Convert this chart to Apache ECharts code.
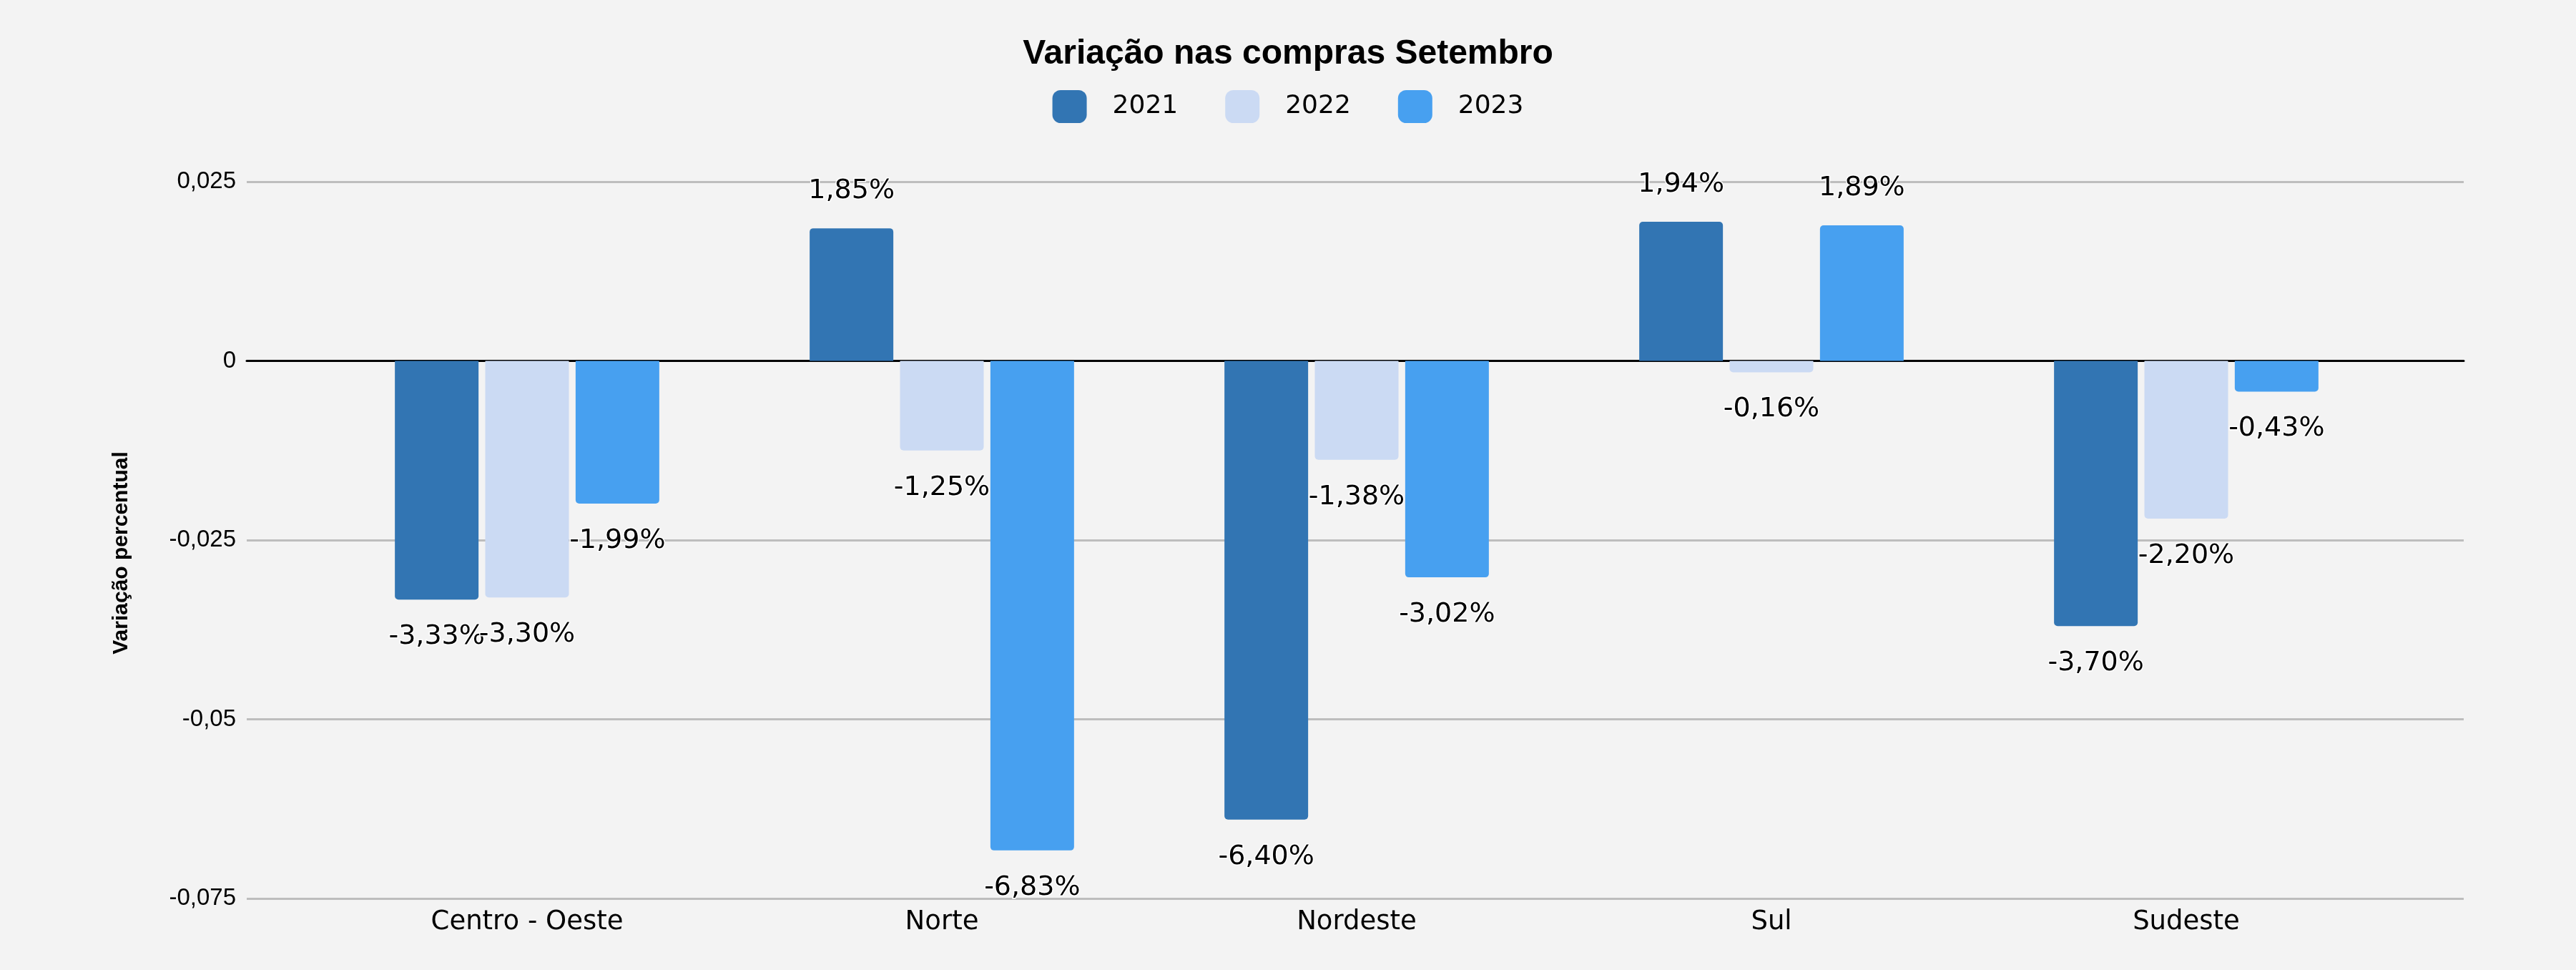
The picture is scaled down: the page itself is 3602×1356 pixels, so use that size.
<!DOCTYPE html>
<html>
<head>
<meta charset="utf-8">
<script src="https://cdn.jsdelivr.net/npm/echarts@6/dist/echarts.min.js"></script>
<style>
html,body{margin:0;padding:0;background:#f3f3f3;}
#chart{width:3602px;height:1356px;}
</style>
</head>
<body>
<div id="chart"></div>
<script>
const categories = ['Centro - Oeste', 'Norte', 'Nordeste', 'Sul', 'Sudeste'];
const seriesNames = ['2021', '2022', '2023'];
const values2021 = [-0.0333, 0.0185, -0.0640, 0.0194, -0.0370];
const values2022 = [-0.0330, -0.0125, -0.0138, -0.0016, -0.0220];
const values2023 = [-0.0199, -0.0683, -0.0302, 0.0189, -0.0043];
const yTicks = [-0.075, -0.05, -0.025, 0, 0.025];
const yTickLabels = ['-0,075', '-0,05', '-0,025', '0', '0,025'];
const colors = ['#3275b3', '#cbdaf3', '#47a0f0'];

function fmtPct(v) {
  return (v * 100).toFixed(2).replace('.', ',') + '%';
}
function tickLabel(v) {
  let best = 0, d = Infinity;
  yTicks.forEach((t, i) => { const dd = Math.abs(t - v); if (dd < d) { d = dd; best = i; } });
  return yTickLabels[best];
}
function buildData(arr) {
  return arr.map(v => ({
    value: v,
    label: { position: v >= 0 ? 'top' : 'bottom' },
    itemStyle: { borderRadius: v >= 0 ? [5, 5, 0, 0] : [0, 0, 5, 5] }
  }));
}
const allValues = [values2021, values2022, values2023];

const chart = echarts.init(document.getElementById('chart'));
chart.setOption({
  backgroundColor: '#f3f3f3',
  animation: false,
  title: {
    text: 'Variação nas compras Setembro',
    left: 'center',
    top: 47,
    textStyle: { fontFamily: 'Liberation Sans', fontSize: 48, fontWeight: 'bold', color: '#000' }
  },
  legend: {
    data: seriesNames,
    top: 121,
    left: 'center',
    icon: 'roundRect',
    itemWidth: 48,
    itemHeight: 46,
    itemGap: 66,
    textStyle: { fontFamily: 'DejaVu Sans', fontSize: 36, color: '#000', padding: [0, 0, 0, 31] }
  },
  grid: [
    { left: 345, right: 157, top: 254, bottom: 100 },
    { left: 447, right: 255, top: 254, bottom: 100 }
  ],
  xAxis: [
    {
      gridIndex: 0, type: 'category', data: categories,
      axisLine: { show: true, onZero: true, lineStyle: { color: '#000', width: 3 } },
      axisTick: { show: false }, axisLabel: { show: false }, splitLine: { show: false }
    },
    {
      gridIndex: 1, type: 'category', data: categories,
      axisLine: { show: false }, axisTick: { show: false },
      axisLabel: { fontFamily: 'DejaVu Sans', fontSize: 37, color: '#000', margin: 15 }
    }
  ],
  yAxis: [
    {
      gridIndex: 0, type: 'value', min: -0.075, max: 0.025, interval: 0.025,
      name: 'Variação percentual', nameLocation: 'middle', nameGap: 160, nameRotate: 90,
      nameTextStyle: { fontFamily: 'Liberation Sans', fontSize: 30, fontWeight: 'bold', color: '#000', padding: [0, 36, 0, 0] },
      axisLine: { show: false }, axisTick: { show: false },
      axisLabel: { fontFamily: 'Liberation Sans', fontSize: 33, color: '#000', margin: 15, formatter: tickLabel },
      splitLine: { show: true, lineStyle: { color: '#bdbdbd', width: 3 } }
    },
    {
      gridIndex: 1, type: 'value', min: -0.075, max: 0.025, interval: 0.025, show: false,
      splitLine: { show: false }
    }
  ],
  series: seriesNames.map((name, i) => ({
    name: name,
    type: 'bar',
    xAxisIndex: 1,
    yAxisIndex: 1,
    barWidth: 117,
    barGap: '8%',
    itemStyle: { color: colors[i] },
    label: {
      show: true,
      distance: 33,
      fontFamily: 'DejaVu Sans',
      fontSize: 38,
      color: '#000',
      textBorderColor: '#ffffff',
      textBorderWidth: 3,
      formatter: p => fmtPct(p.value)
    },
    data: buildData(allValues[i])
  }))
});
</script>
</body>
</html>
